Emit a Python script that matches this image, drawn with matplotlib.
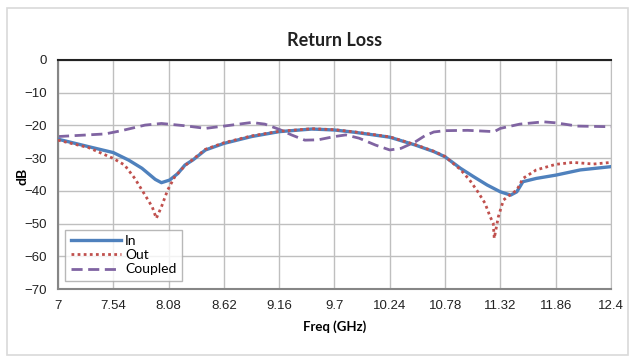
import matplotlib
matplotlib.use("Agg")
import matplotlib.pyplot as plt
from matplotlib.patches import Rectangle

# ---- data ----
in_freq = [7.0, 7.30, 7.54, 7.69, 7.82, 7.95, 8.01, 8.09, 8.17, 8.24, 8.32, 8.44, 8.62, 8.89, 9.16,
           9.48, 9.7, 9.9, 10.24, 10.49, 10.67, 10.78, 10.93, 11.06, 11.19, 11.32, 11.42, 11.48,
           11.54, 11.67, 11.86, 12.1, 12.4]
in_db = [-24.2, -26.5, -28.3, -30.6, -33.1, -36.5, -37.5, -36.7, -34.7, -32.1, -30.5, -27.5, -25.5,
         -23.4, -21.9, -21.1, -21.4, -22.1, -23.6, -26.0, -28.0, -29.6, -33.1, -35.7, -38.2, -40.3,
         -41.3, -40.3, -37.2, -36.2, -35.2, -33.6, -32.6]

out_freq = [7.0, 7.30, 7.54, 7.65, 7.75, 7.85, 7.92, 7.96, 8.01, 8.07, 8.14, 8.24, 8.32, 8.44, 8.62,
            8.89, 9.16, 9.48, 9.7, 9.9, 10.24, 10.49, 10.67, 10.78, 10.93, 11.02, 11.10, 11.17,
            11.22, 11.25, 11.26, 11.30, 11.35, 11.41, 11.48, 11.54, 11.67, 11.86, 12.03, 12.23, 12.4]
out_db = [-24.5, -26.8, -30.1, -32.1, -36.2, -41.3, -44.9, -48.4, -44.9, -39.8, -35.7, -32.3, -30.3,
          -27.3, -25.3, -23.2, -21.8, -21.0, -21.3, -22.0, -23.5, -25.9, -27.9, -29.5, -33.5, -36.7,
          -40.3, -43.8, -47.9, -49.9, -54.5, -47.9, -42.8, -41.3, -39.8, -36.2, -33.6, -31.9, -31.3,
          -31.8, -31.3]

cpl_freq = [7.0, 7.46, 7.62, 7.85, 8.01, 8.24, 8.44, 8.62, 8.89, 9.02, 9.16, 9.28, 9.41, 9.54, 9.7,
            9.81, 9.94, 10.10, 10.24, 10.35, 10.49, 10.58, 10.67, 10.78, 11.0, 11.26, 11.32, 11.51,
            11.74, 11.86, 12.07, 12.4]
cpl_db = [-23.4, -22.6, -21.6, -19.9, -19.4, -20.1, -20.9, -20.2, -19.1, -19.6, -21.2, -22.9, -24.5,
          -24.4, -23.4, -22.9, -23.9, -26.0, -27.5, -27.0, -25.0, -23.2, -22.0, -21.6, -21.5, -21.9,
          -20.9, -19.6, -18.9, -19.2, -20.2, -20.4]

xticks = [7, 7.54, 8.08, 8.62, 9.16, 9.7, 10.24, 10.78, 11.32, 11.86, 12.4]
xtick_labels = ["7", "7.54", "8.08", "8.62", "9.16", "9.7", "10.24", "10.78", "11.32", "11.86", "12.4"]
yticks = [0, -10, -20, -30, -40, -50, -60, -70]

W, H = 636, 361
fig = plt.figure(figsize=(W / 100, H / 100), dpi=100)
fig.patch.set_facecolor("white")
fig.add_artist(Rectangle((7 / W, 1 - 355 / H), 621 / W, 347 / H, transform=fig.transFigure,
                         fill=False, edgecolor="#D9D9D9", linewidth=1.2))

ax = fig.add_axes([58 / W, 1 - 289 / H, 553 / W, 229 / H])
ax.plot(in_freq, in_db, color="#4F81BD", lw=2.4, label="In", zorder=3)
ax.plot(out_freq, out_db, color="#C0504D", lw=2.0, linestyle=(0, (1, 1.2)), label="Out", zorder=4)
ax.plot(cpl_freq, cpl_db, color="#8064A2", lw=2.0, linestyle=(0, (4, 2)), label="Coupled", zorder=2)

ax.set_xlim(7, 12.4)
ax.set_ylim(-70, 0)
ax.set_xticks(xticks)
ax.set_xticklabels(xtick_labels)
ax.set_yticks(yticks)
ax.grid(True, color="#BFBFBF", lw=1)
ax.set_axisbelow(True)
ax.tick_params(length=0, labelsize=9.5, colors="#222222", pad=8)
for lab in ax.get_xticklabels() + ax.get_yticklabels():
    lab.set_family("Liberation Sans")
for s in ["left", "bottom"]:
    ax.spines[s].set_color("#868686")
    ax.spines[s].set_linewidth(1.5)
ax.spines["right"].set_color("#BFBFBF")
ax.spines["top"].set_color("#222222")
ax.spines["top"].set_linewidth(1.5)

ax.set_title("Return Loss", fontsize=13, fontweight="bold", family="Lato", pad=10, color="#222222")
ax.set_xlabel("Freq (GHz)", fontsize=9.5, fontweight="bold", family="Lato", labelpad=6)
ax.set_ylabel("dB", fontsize=10, fontweight="bold", family="Lato")
ax.yaxis.set_label_coords(-0.054, 0.49)

leg = ax.legend(loc="lower left", bbox_to_anchor=(0.013, 0.035), prop={"family": "Lato", "size": 10},
                frameon=True, fancybox=False, edgecolor="#A6A6A6", handlelength=3.6,
                handletextpad=0.3, borderpad=0.4, borderaxespad=0, labelspacing=0.15)
leg.get_frame().set_linewidth(1)

fig.savefig("out.png", dpi=100)
